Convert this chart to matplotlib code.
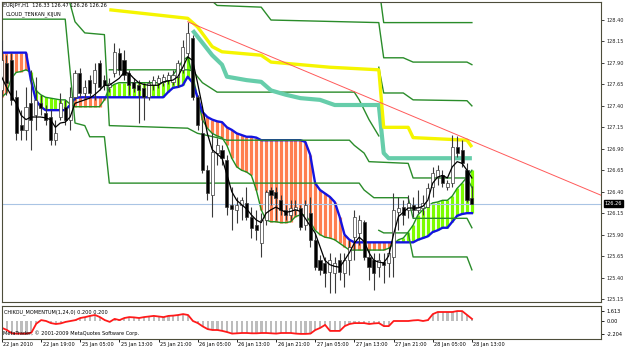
import matplotlib
matplotlib.use('Agg')
import matplotlib.pyplot as plt
import matplotlib.transforms as mtransforms
from matplotlib import font_manager

# EURJPY H1, bars 22 Jan 11:00 .. 28 Jan 13:00
opens = [127.58, 127.90, 127.93, 127.50, 127.18, 127.12, 127.43, 127.29, 127.43, 127.32,
         127.27, 127.00, 127.27, 127.39, 127.24, 127.50, 127.78, 127.55, 127.70, 127.67,
         127.90, 127.70, 127.62, 127.78, 128.02, 127.93, 127.78, 127.68, 127.64, 127.61,
         127.50, 127.64, 127.67, 127.68, 127.70, 127.68, 127.74, 127.82, 128.02, 128.19,
         127.50, 127.08, 126.65, 126.36, 126.85, 126.89, 126.77, 126.25, 126.19, 126.25,
         126.27, 126.11, 126.01, 125.80, 126.07, 126.42, 126.40, 126.30, 126.19, 126.13,
         126.19, 126.21, 126.01, 126.15, 125.84, 125.60, 125.57, 125.46, 125.45, 125.60,
         125.45, 125.60, 125.87, 125.92, 126.05, 125.64, 125.60, 125.52, 125.58, 125.57,
         125.64, 126.16, 126.22, 126.19, 126.25, 126.19, 126.21, 126.22, 126.45, 126.57,
         126.59, 126.45, 126.50, 126.92, 126.89, 126.65, 126.33]
highs = [128.17, 127.99, 128.02, 127.58, 127.35, 127.62, 127.82, 127.74, 127.53, 127.41,
         127.35, 127.24, 127.55, 127.47, 127.62, 127.82, 127.84, 127.70, 127.76, 127.90,
         127.93, 127.76, 127.72, 128.13, 128.07, 128.05, 127.82, 127.72, 127.70, 127.67,
         127.70, 127.75, 127.76, 127.77, 127.79, 127.82, 127.93, 128.17, 128.38, 128.23,
         127.53, 127.24, 126.71, 127.08, 127.03, 126.94, 126.83, 126.45, 126.34, 126.34,
         126.45, 126.22, 126.19, 126.15, 126.42, 126.45, 126.45, 126.36, 126.25, 126.30,
         126.30, 126.25, 126.30, 126.34, 125.92, 125.66, 125.64, 125.69, 125.64, 125.69,
         125.69, 125.84, 126.19, 126.13, 126.07, 125.72, 125.69, 125.69, 125.69, 125.76,
         126.38, 126.34, 126.30, 126.36, 126.34, 126.42, 126.36, 126.50, 126.69, 126.71,
         126.65, 126.54, 127.06, 127.05, 127.00, 126.73, 126.47]
lows = [127.50, 127.53, 127.41, 127.00, 127.00, 127.00, 126.89, 127.12, 127.29, 127.18,
        126.94, 126.94, 127.24, 127.18, 127.12, 127.47, 127.50, 127.49, 127.51, 127.47,
        127.58, 127.58, 127.56, 127.74, 127.76, 127.70, 127.53, 127.56, 127.20, 127.24,
        127.47, 127.58, 127.61, 127.63, 127.65, 127.64, 127.62, 127.78, 127.97, 127.47,
        127.12, 126.62, 126.30, 126.11, 126.71, 126.71, 126.13, 125.95, 126.04, 126.07,
        126.07, 125.86, 125.84, 125.64, 126.01, 126.25, 126.07, 126.13, 126.07, 126.07,
        126.13, 125.95, 125.95, 125.76, 125.49, 125.43, 125.29, 125.22, 125.22, 125.37,
        125.29, 125.43, 125.60, 125.78, 125.60, 125.37, 125.26, 125.41, 125.34, 125.41,
        125.41, 125.95, 126.01, 126.09, 126.11, 126.15, 126.13, 126.22, 126.34, 126.48,
        126.45, 126.42, 126.45, 126.80, 126.69, 126.28, 126.26]
closes = [127.93, 127.67, 127.47, 127.08, 127.12, 127.39, 127.24, 127.47, 127.37, 127.24,
          127.00, 127.08, 127.43, 127.24, 127.50, 127.78, 127.55, 127.62, 127.55, 127.82,
          127.62, 127.64, 127.67, 128.03, 127.82, 127.76, 127.64, 127.61, 127.58, 127.50,
          127.67, 127.70, 127.72, 127.74, 127.76, 127.76, 127.90, 128.09, 128.25, 127.50,
          127.18, 126.65, 126.38, 126.86, 126.94, 126.79, 126.22, 126.20, 126.25, 126.30,
          126.11, 125.98, 125.95, 126.07, 126.40, 126.36, 126.33, 126.19, 126.13, 126.21,
          126.22, 125.99, 126.25, 125.84, 125.52, 125.49, 125.45, 125.60, 125.57, 125.46,
          125.60, 125.76, 126.11, 126.07, 125.64, 125.52, 125.45, 125.60, 125.55, 125.69,
          126.19, 126.21, 126.13, 126.27, 126.19, 126.22, 126.27, 126.44, 126.62, 126.65,
          126.50, 126.50, 126.92, 126.85, 126.73, 126.30, 126.26]

# black tenkan line
tenkan = [127.74, 127.62, 127.52, 127.43, 127.29, 127.24, 127.27, 127.27, 127.27, 127.26,
          127.24, 127.15, 127.20, 127.21, 127.27, 127.43, 127.45, 127.47, 127.49, 127.53,
          127.58, 127.64, 127.64, 127.68, 127.72, 127.79, 127.78, 127.72, 127.67, 127.65,
          127.64, 127.64, 127.64, 127.68, 127.69, 127.70, 127.74, 127.85, 127.97, 127.93,
          127.67, 127.39, 127.08, 126.89, 126.84, 126.79, 126.60, 126.40, 126.30, 126.25,
          126.20, 126.13, 126.07, 126.04, 126.15, 126.19, 126.22, 126.19, 126.16, 126.17,
          126.19, 126.17, 126.09, 126.00, 125.92, 125.76, 125.60, 125.55, 125.53, 125.52,
          125.60, 125.69, 125.80, 125.87, 125.82, 125.69, 125.60, 125.58, 125.57, 125.65,
          125.90, 126.11, 126.16, 126.21, 126.21, 126.21, 126.23, 126.30, 126.50, 126.57,
          126.59, 126.56, 126.69, 126.75, 126.73, 126.65, 126.56]

# cloud edges
span_blue = [128.02, 128.02, 128.02, 128.02, 128.02, 128.02, 127.70, 127.47, 127.39, 127.35,
             127.35, 127.35, 127.35, 127.35, 127.41, 127.49, 127.50, 127.50, 127.50, 127.50,
             127.50, 127.50, 127.50, 127.50, 127.50, 127.50, 127.50, 127.50, 127.50, 127.50,
             127.50, 127.50, 127.50, 127.50, 127.56, 127.61, 127.62, 127.64, 127.74, 127.67,
             127.50, 127.33, 127.27, 127.24, 127.22, 127.21, 127.15, 127.12, 127.08, 127.06,
             127.04, 127.04, 127.03, 127.00, 127.00, 127.00, 127.00, 127.00, 127.00, 127.00,
             127.00, 127.00, 126.98, 126.83, 126.50, 126.42, 126.38, 126.34, 126.28, 126.11,
             125.90, 125.84, 125.81, 125.81, 125.81, 125.81, 125.81, 125.81, 125.81, 125.81,
             125.81, 125.81, 125.81, 125.81, 125.81, 125.84, 125.86, 125.88, 125.93, 125.95,
             125.98, 125.98, 126.05, 126.12, 126.14, 126.15, 126.15]
span_green = [127.50, 127.55, 127.72, 127.79, 127.80, 127.82, 127.79, 127.58, 127.53, 127.50,
              127.49, 127.48, 127.47, 127.47, 127.42, 127.39, 127.39, 127.39, 127.39, 127.39,
              127.39, 127.47, 127.61, 127.65, 127.67, 127.67, 127.67, 127.67, 127.67, 127.67,
              127.67, 127.67, 127.67, 127.67, 127.70, 127.76, 127.84, 127.93, 127.97, 127.76,
              127.50, 127.24, 127.14, 127.08, 127.05, 127.03, 126.94, 126.79, 126.69, 126.65,
              126.63, 126.59, 126.42, 126.19, 126.07, 126.05, 126.05, 126.04, 126.04, 126.05,
              126.11, 126.13, 126.13, 126.05, 125.95, 125.90, 125.87, 125.86, 125.84, 125.80,
              125.76, 125.72, 125.72, 125.72, 125.72, 125.72, 125.72, 125.72, 125.72, 125.74,
              125.79, 125.84, 125.86, 125.93, 126.01, 126.13, 126.19, 126.23, 126.27, 126.28,
              126.30, 126.30, 126.35, 126.44, 126.50, 126.57, 126.65]

# chikou momentum (histogram + line)
momentum = [-1.2, -1.55, -2.1, -2.15, -2.15, -2.15, -2.0, -0.5, 0.1, -0.05,
            -0.4, -0.55, -0.45, -0.2, -0.05, 0.1, 0.45, 0.6, 0.8, 0.95,
            0.6, 0.1, -0.2, 0.3, 0.1, 0.45, 0.6, 0.55, 0.45, 0.6,
            0.7, 0.8, 0.7, 0.6, 0.8, 0.85, 0.95, 1.1, 0.95, -0.05,
            -0.4, -0.95, -1.4, -1.55, -1.55, -1.7, -1.9, -2.15, -2.1, -2.05,
            -2.05, -2.1, -2.1, -2.05, -2.05, -2.1, -2.15, -2.05, -2.05, -2.05,
            -2.15, -2.2, -2.2, -2.15, -1.55, -1.2, -0.7, -1.7, -1.7, -1.7,
            -0.9, -0.55, -0.4, -0.4, -0.4, -0.55, -0.45, -0.4, -0.9, -0.9,
            -0.05, -0.05, -0.05, -0.05, 0.05, 0.1, -0.05, 0.1, 1.1, 1.45,
            1.45, 1.45, 1.45, 1.61, 1.6, 0.95, 0.3]

# stepped kijun levels (bar, price breakpoints)
step_a_bars = [0, 13, 15, 17, 18, 21, 22, 73, 74, 76, 83, 84, 95, 96]
step_a_vals = [128.41, 128.41, 127.20, 127.17, 127.04, 127.04, 126.50, 126.50, 126.42, 126.33, 126.33, 126.09, 126.09, 125.98]
step_b_bars = [13, 15, 17, 21, 22, 38, 40, 44, 46, 71, 72, 74, 75, 83, 84, 95, 96]
step_b_vals = [128.80, 128.38, 128.25, 128.23, 127.17, 127.14, 127.08, 127.03, 127.00, 127.00, 126.94, 126.85, 126.75, 126.73, 126.56, 126.56, 126.45]
step_c_bars = [22, 38, 39, 41, 44, 72, 73, 75, 77]
step_c_vals = [127.82, 127.82, 127.81, 127.67, 127.56, 127.56, 127.47, 127.24, 127.05]
step_d_bars = [77, 78, 95, 96]
step_d_vals = [128.80, 128.37, 128.37, 128.37]
step_e_bars = [41, 43, 44, 53, 55, 77, 78, 82, 84, 95, 96]
step_e_vals = [128.90, 128.62, 128.57, 128.55, 128.40, 128.37, 127.96, 127.96, 127.91, 127.91, 127.88]
step_f_bars = [77, 78, 82, 84, 95, 96]
step_f_vals = [127.85, 127.55, 127.55, 127.47, 127.46, 127.40]
step_g_bars = [77, 78, 83, 84, 95, 96]
step_g_vals = [125.95, 125.92, 125.92, 125.64, 125.64, 125.49]

yellow_bars = [22, 38, 40, 43, 45, 53, 55, 67, 77, 78, 83, 84, 95, 96]
yellow_vals = [128.52, 128.42, 128.32, 128.09, 128.03, 127.99, 127.91, 127.85, 127.82, 127.15, 127.15, 127.03, 127.00, 126.92]
teal_bars = [39, 43, 45, 46, 50, 53, 55, 58, 61, 65, 68, 77, 78, 79, 96]
teal_vals = [128.28, 127.99, 127.88, 127.74, 127.70, 127.68, 127.58, 127.53, 127.49, 127.47, 127.41, 127.41, 126.85, 126.79, 126.79]

trend_bars = [38, 122.3]
trend_vals = [128.38, 126.36]
bid = 126.26

price_ticks = [128.40, 128.15, 127.90, 127.65, 127.40, 127.15, 126.90, 126.65,
               126.40, 126.15, 125.90, 125.65, 125.40, 125.15]
time_ticks = [0, 8, 16, 24, 32, 40, 48, 56, 64, 72, 80, 88, 96]
time_labels = ['22 Jan 2010', '22 Jan 19:00', '25 Jan 05:00', '25 Jan 13:00', '25 Jan 21:00',
               '26 Jan 05:00', '26 Jan 13:00', '26 Jan 21:00', '27 Jan 05:00', '27 Jan 13:00',
               '27 Jan 21:00', '28 Jan 05:00', '28 Jan 13:00']

# small narrow font like the terminal's one
installed = {f.name for f in font_manager.fontManager.ttflist}
if 'Liberation Sans Narrow' in installed:
    plt.rcParams['font.family'] = ['Liberation Sans Narrow', 'DejaVu Sans']
    FS = 4.6
else:
    plt.rcParams['font.family'] = ['DejaVu Sans']
    FS = 3.6

W, H = 625, 349
fig = plt.figure(figsize=(W / 100, H / 100), dpi=100)
fig.patch.set_facecolor('white')
ax = fig.add_axes([2 / W, 47 / H, 599 / W, 300 / H])
ax2 = fig.add_axes([2 / W, 10.3 / H, 599 / W, 33 / H])

n = len(closes)
xs = list(range(n))
XMIN, XMAX = 0.1, 122.35

# cloud stripes
for i in xs:
    a, b = span_blue[i], span_green[i]
    col = '#ff7f50' if a >= b else '#7cfc00'
    ax.vlines(i, min(a, b), max(a, b), colors=col, lw=2.3, zorder=1)
ax.plot(xs, span_green, color='#1f8f1f', lw=1.0, zorder=2)
ax.plot(xs, span_blue, color='#1414e0', lw=1.7, zorder=2)

# stepped levels
for bx, bv in [(step_a_bars, step_a_vals), (step_b_bars, step_b_vals), (step_c_bars, step_c_vals),
               (step_d_bars, step_d_vals), (step_e_bars, step_e_vals), (step_f_bars, step_f_vals),
               (step_g_bars, step_g_vals)]:
    ax.plot(bx, bv, color='#2a8c2a', lw=1.0, zorder=2)

ax.plot(teal_bars, teal_vals, color='#66cdaa', lw=3.0, zorder=2, solid_capstyle='butt')
ax.plot(yellow_bars, yellow_vals, color='#f5f500', lw=2.4, zorder=2, solid_capstyle='butt')

# candles
ax.vlines(xs, lows, highs, colors='#3a3a3a', lw=0.8, zorder=3)
for i in xs:
    o, c = opens[i], closes[i]
    fc = 'white' if c >= o else 'black'
    h = max(abs(c - o), 0.01)
    ax.bar(i, h, bottom=min(o, c), width=0.62, color=fc, edgecolor='#3a3a3a', lw=0.5, zorder=3)

ax.plot(xs, tenkan, color='black', lw=0.9, zorder=4)
ax.plot(trend_bars, trend_vals, color='#ff5a5a', lw=0.7, zorder=5)
ax.axhline(bid, color='#a9c4e4', lw=0.8, zorder=2)

ax.set_xlim(XMIN, XMAX)
ax.set_ylim(125.115, 128.61)
ax.set_xticks([])
ax.yaxis.tick_right()
ax.set_yticks(price_ticks)
ax.set_yticklabels(['%.2f' % p for p in price_ticks], fontsize=FS)
ax.tick_params(axis='y', length=2, pad=2, width=0.6, colors='#222222')
for s in ax.spines.values():
    s.set_color('#4d4d3a')
    s.set_linewidth(0.8)

tr = mtransforms.blended_transform_factory(ax.transAxes, ax.transData)
ax.text(1.006, bid, '%.2f' % bid, transform=tr, fontsize=FS, color='white', va='center', ha='left',
        bbox=dict(boxstyle='square,pad=0.15', fc='black', ec='black'), zorder=6)

# indicator panel
ax2.bar(xs, momentum, width=0.45, color='#bdbdbd', zorder=1)
ax2.plot(xs, momentum, color='#ff1a1a', lw=1.3, zorder=2)
ax2.set_xlim(XMIN, XMAX)
ax2.set_ylim(-3.0, 2.5)
ax2.yaxis.tick_right()
ax2.set_yticks([1.613, 0.0, -2.204])
ax2.set_yticklabels(['1.613', '0.00', '-2.204'], fontsize=FS)
ax2.tick_params(axis='y', length=2, pad=2, width=0.6)
ax2.set_xticks(time_ticks)
ax2.set_xticklabels([])
ax2.tick_params(axis='x', length=2, width=0.6, direction='out')
for s in ax2.spines.values():
    s.set_color('#4d4d3a')
    s.set_linewidth(0.8)
trx = mtransforms.blended_transform_factory(ax2.transData, ax2.transAxes)
for t, lab in zip(time_ticks, time_labels):
    ax2.text(t + 0.3, -0.1, lab, transform=trx, fontsize=FS, ha='left', va='top')

fig.text(3 / W, 1 - 5 / H, 'EURJPY,H1  126.33 126.47 126.26 126.26', fontsize=FS, va='center')
fig.text(6 / W, 1 - 14 / H, 'CLOUD_TENKAN_KIJUN', fontsize=FS, va='center')
fig.text(4 / W, 1 - 312 / H, 'CHIKOU_MOMENTUM(1,24,0) 0.200 0.200', fontsize=FS, va='center')
fig.text(3 / W, 1 - 333 / H, 'MetaTrader, \u00a9 2001-2009 MetaQuotes Software Corp.', fontsize=FS, va='center')

fig.savefig('out.png', dpi=100)
